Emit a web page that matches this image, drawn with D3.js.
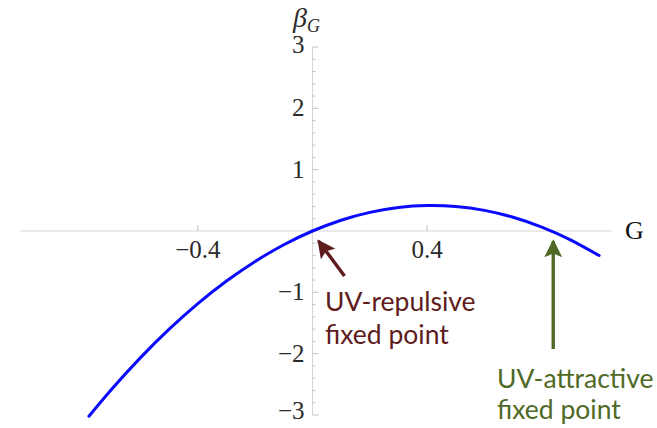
<!DOCTYPE html>
<html>
<head>
<meta charset="utf-8">
<script src="https://cdn.jsdelivr.net/npm/d3@7"></script>
<style>
  html, body { margin: 0; padding: 0; background: #fff; }
  svg { display: block; }
</style>
</head>
<body>
<svg id="chart" width="657" height="428"></svg>
<script>
// Beta function of the coupling G, sampled along the curve
const gValues    = [-0.78, -0.7, -0.6, -0.5, -0.4, -0.3, -0.2, -0.1, 0.0, 0.1, 0.2, 0.3, 0.4, 0.5, 0.6, 0.7, 0.8, 0.9, 1.0];
const betaValues = [-3.02, -2.576, -2.064, -1.6, -1.184, -0.816, -0.496, -0.224, 0.0, 0.176, 0.304, 0.384, 0.416, 0.4, 0.336, 0.224, 0.064, -0.144, -0.4];

// Fixed points (zeros of the beta function)
const fixedPointG = [0.0, 0.84];
const fixedPointLabels = [["UV-repulsive", "fixed point"], ["UV-attractive", "fixed point"]];
const fixedPointColors = ["#5e1c1c", "#4f6a26"];

// Axis ticks
const xTickValues = [-0.4, 0.4];
const xTickLabels = ["\u22120.4", "0.4"];
const yTickValues = [-3, -2, -1, 1, 2, 3];
const yTickLabels = ["\u22123", "\u22122", "\u22121", "1", "2", "3"];

const svg = d3.select("#chart");

const x = d3.scaleLinear().domain([-1.0205, 1.045]).range([20, 612]);
const y = d3.scaleLinear().domain([-3, 3]).range([415, 47]);

const axisColor = "#d6d6d6";
const tickColor = "#c2c2c2";
const serif = "'Liberation Serif', 'Times New Roman', serif";
const labelColor = "#2a2a2a";

// Horizontal axis line through beta = 0
svg.append("line")
  .attr("x1", x.range()[0]).attr("x2", x.range()[1])
  .attr("y1", y(0)).attr("y2", y(0))
  .attr("stroke", axisColor).attr("stroke-width", 1.2);

// Vertical axis line through G = 0
svg.append("line")
  .attr("x1", x(0)).attr("x2", x(0))
  .attr("y1", y(3)).attr("y2", y(-3))
  .attr("stroke", axisColor).attr("stroke-width", 1.2);

// x ticks on the labelled values
svg.append("g").selectAll("line").data(xTickValues).join("line")
  .attr("x1", d => x(d)).attr("x2", d => x(d))
  .attr("y1", y(0) - 6).attr("y2", y(0))
  .attr("stroke", tickColor).attr("stroke-width", 1);

svg.append("g").selectAll("text").data(xTickValues).join("text")
  .attr("x", d => x(d)).attr("y", y(0) + 27)
  .attr("text-anchor", "middle")
  .attr("font-family", serif).attr("font-size", 25).attr("fill", labelColor)
  .text((d, i) => xTickLabels[i]);

// y ticks (minor every 0.2, major on integers)
const yMinor = d3.range(-15, 16).map(d => d / 5).filter(d => Math.abs(d) > 1e-9);
svg.append("g").selectAll("line").data(yMinor).join("line")
  .attr("x1", x(0))
  .attr("x2", d => x(0) + (Math.abs(d - Math.round(d)) < 1e-9 ? 6 : 3))
  .attr("y1", d => y(d)).attr("y2", d => y(d))
  .attr("stroke", tickColor).attr("stroke-width", 1);

// end labels sit slightly higher than the inner ones
svg.append("g").selectAll("text").data(yTickValues).join("text")
  .attr("x", x(0) - 8)
  .attr("y", d => y(d) + (d === 3 ? 6 : d === -3 ? 4 : 8))
  .attr("text-anchor", "end")
  .attr("font-family", serif).attr("font-size", 25).attr("fill", labelColor)
  .text((d, i) => yTickLabels[i]);

// Axis titles
const yTitle = svg.append("text")
  .attr("x", 293).attr("y", 27)
  .attr("font-family", serif).attr("font-style", "italic").attr("fill", labelColor);
yTitle.append("tspan").attr("font-size", 28).text("\u03B2");
yTitle.append("tspan").attr("font-size", 18).attr("dy", 5).text("G");

svg.append("text")
  .attr("x", 625).attr("y", y(0) + 8)
  .attr("font-family", serif).attr("font-size", 26).attr("fill", "#111")
  .text("G");

// Beta function curve
const pts = gValues.map((g, i) => [g, betaValues[i]]);
svg.append("path")
  .datum(pts)
  .attr("fill", "none")
  .attr("stroke", "#0a0aff")
  .attr("stroke-width", 3)
  .attr("stroke-linecap", "round")
  .attr("d", d3.line().x(d => x(d[0])).y(d => y(d[1])).curve(d3.curveNatural));

// Arrow markers
const defs = svg.append("defs");
fixedPointColors.forEach((c, i) => {
  defs.append("marker")
    .attr("id", "head" + i)
    .attr("viewBox", "0 0 10 10")
    .attr("refX", 9).attr("refY", 5)
    .attr("markerWidth", 5.3).attr("markerHeight", 5.3)
    .attr("markerUnits", "strokeWidth")
    .attr("orient", "auto")
    .append("path").attr("d", "M0,0 L10,5 L0,10 L2,5 Z").attr("fill", c);
});

const sans = "Lato, 'Open Sans', sans-serif";

// Repulsive fixed point at G = 0: diagonal arrow from below right
const r0 = [x(fixedPointG[0]), y(0)];
svg.append("line")
  .attr("x1", r0[0] + 32).attr("y1", r0[1] + 45)
  .attr("x2", r0[0] + 6).attr("y2", r0[1] + 10)
  .attr("stroke", fixedPointColors[0]).attr("stroke-width", 3.4)
  .attr("marker-end", "url(#head0)");
svg.append("text")
  .attr("x", 325).attr("y", 311)
  .attr("font-family", sans).attr("font-size", 26.5).attr("fill", fixedPointColors[0])
  .selectAll("tspan").data(fixedPointLabels[0]).join("tspan")
  .attr("x", 325).attr("dy", (d, i) => i === 0 ? 0 : 33)
  .text(d => d);

// Attractive fixed point at G = 0.84: vertical arrow from below
const r1 = [x(fixedPointG[1]), y(0)];
svg.append("line")
  .attr("x1", r1[0]).attr("y1", 349)
  .attr("x2", r1[0]).attr("y2", r1[1] + 10)
  .attr("stroke", fixedPointColors[1]).attr("stroke-width", 3.4)
  .attr("marker-end", "url(#head1)");
svg.append("text")
  .attr("x", 497).attr("y", 388)
  .attr("font-family", sans).attr("font-size", 26.5).attr("fill", fixedPointColors[1])
  .selectAll("tspan").data(fixedPointLabels[1]).join("tspan")
  .attr("x", 497).attr("dy", (d, i) => i === 0 ? 0 : 31)
  .text(d => d);
</script>
